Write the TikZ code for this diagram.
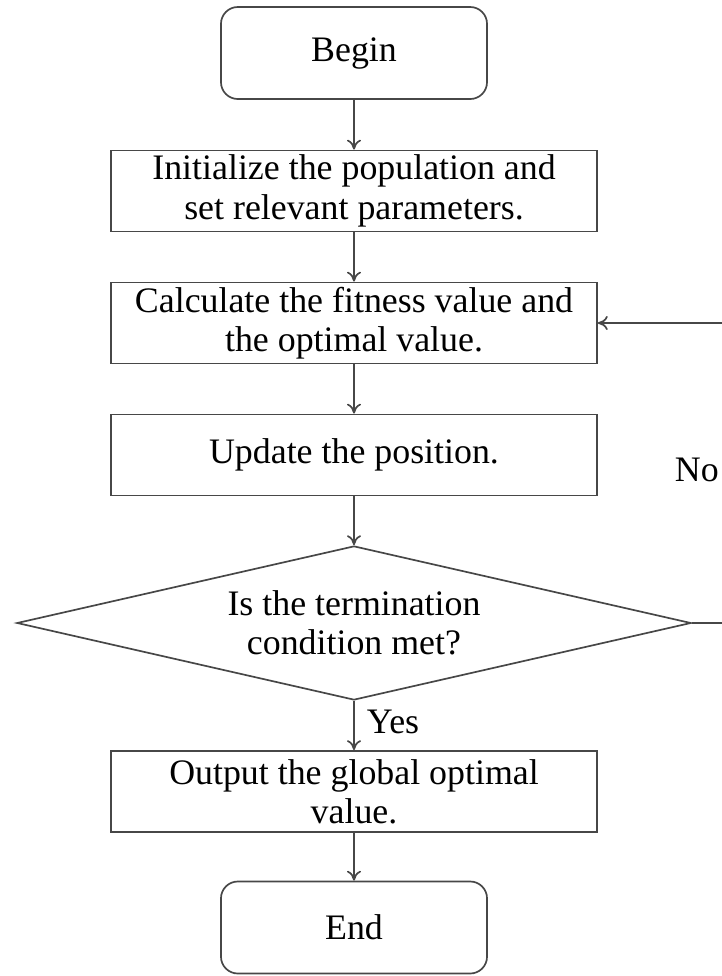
\documentclass[tikz,border=0pt]{standalone}
\usepackage{fontspec}
\setmainfont{Liberation Serif}
\usepackage{tikz}
\usetikzlibrary{shapes.geometric,arrows.meta}

\tikzset{
  every node/.style={font=\fontsize{25.5}{28}\selectfont, text=black},
  line/.style={draw=black!72, line width=1.2pt},
  arr/.style={line, -{To[length=7pt,width=10pt]}},
  terminal/.style={line, rounded corners=12pt, minimum width=6.65cm, minimum height=2.3cm},
  process/.style={line, align=center, minimum width=12.15cm, minimum height=2.03cm, inner sep=0pt},
  decision/.style={line, diamond, aspect=4.38, align=center, minimum width=16.85cm, minimum height=3.85cm, inner sep=0pt},
}

\begin{document}
\begin{tikzpicture}[x=0.025cm, y=-0.025cm]

\useasboundingbox (0,0) rectangle (722,976);

\node[terminal] (begin) at (354,53) {Begin};
\node[process] (init) at (354,191) {Initialize the population and\\set relevant parameters.};
\node[process] (calc) at (354,323) {Calculate the fitness value and\\the optimal value.};
\node[process] (update) at (354,455) {Update the position.};
\node[decision] (cond) at (354,623) {Is the termination\\condition met?};
\node[process] (output) at (354,791.5) {Output the global optimal\\value.};
\node[terminal] (end) at (354,927.5) {End};

\coordinate (turn) at (740,623);
\node[anchor=west] (no) at (670,470) {No};
\node[anchor=west] (yes) at (362,722) {Yes};

\draw[arr] (begin) -- (init);
\draw[arr] (init) -- (calc);
\draw[arr] (calc) -- (update);
\draw[arr] (update) -- (cond);
\draw[arr] (cond) -- (output);
\draw[arr] (output) -- (end);
\draw[arr] (cond.east) -- (turn) |- (calc.east);

\end{tikzpicture}
\end{document}
